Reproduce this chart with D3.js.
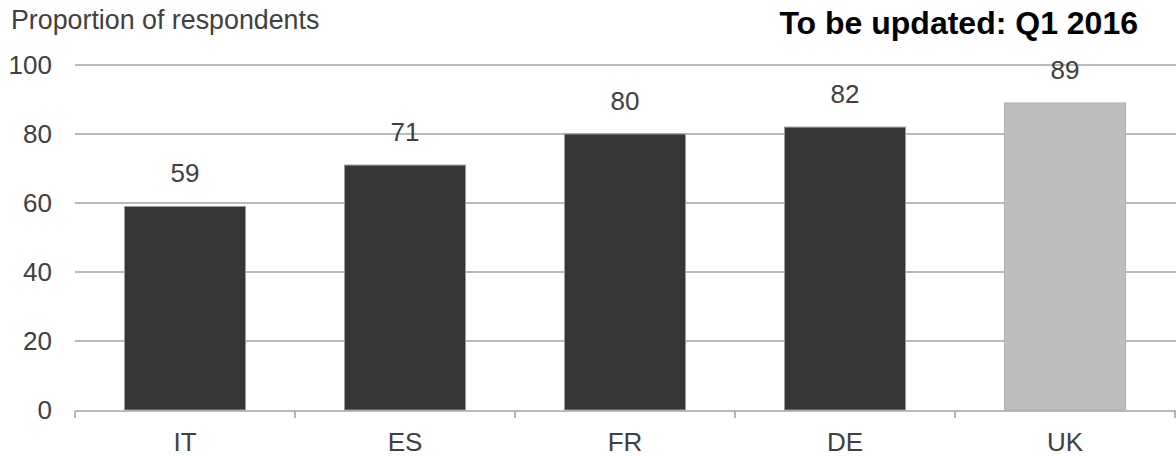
<!DOCTYPE html>
<html><head><meta charset="utf-8">
<script src="https://cdn.jsdelivr.net/npm/d3@7"></script>
<style>body{margin:0;background:#fff}svg{display:block}text{font-family:"Liberation Sans",Arial,sans-serif}</style>
</head><body>
<svg id="c" width="1176" height="456"></svg>
<script>
const categories = ["IT","ES","FR","DE","UK"];
const values = [59,71,80,82,89];
const highlight = [false,false,false,false,true];
const yTicks = [0,20,40,60,80,100];
const yTitle = "Proportion of respondents";
const note = "To be updated: Q1 2016";

const svg = d3.select("#c");
const mLeft = 75, mRight = 1175, mTop = 65, mBottom = 410;
const x = d3.scaleBand().domain(categories).range([mLeft,mRight]).paddingInner(0.45).paddingOuter(0.225);
const y = d3.scaleLinear().domain([0,100]).range([mBottom,mTop]);

// gridlines
svg.append("g").selectAll("line").data(yTicks.filter(d=>d>0)).join("line")
  .attr("x1",mLeft).attr("x2",1176).attr("y1",d=>y(d)).attr("y2",d=>y(d))
  .attr("stroke","#a3a3a3").attr("stroke-width",1.6);

// y labels
svg.append("g").selectAll("text").data(yTicks).join("text")
  .attr("x",52).attr("y",d=>y(d)).attr("dy","0.36em").attr("text-anchor","end")
  .attr("font-size",26).attr("fill","#404040").text(d=>d);

// bars
svg.append("g").selectAll("rect").data(categories).join("rect")
  .attr("x",d=>x(d)).attr("width",x.bandwidth())
  .attr("y",(d,i)=>y(values[i])).attr("height",(d,i)=>y(0)-y(values[i]))
  .attr("fill",(d,i)=>highlight[i]?"#bdbdbd":"#363636")
  .attr("stroke",(d,i)=>highlight[i]?"#b0b0b0":"#9a9a9a").attr("stroke-width",1);

// value labels
svg.append("g").selectAll("text").data(categories).join("text")
  .attr("x",d=>x(d)+x.bandwidth()/2).attr("y",(d,i)=>y(values[i])-24)
  .attr("text-anchor","middle").attr("font-size",26).attr("fill","#404040")
  .text((d,i)=>values[i]);

// x axis
const xa = svg.append("g");
xa.append("line").attr("x1",mLeft).attr("x2",1176).attr("y1",mBottom+1).attr("y2",mBottom+1)
  .attr("stroke","#a3a3a3").attr("stroke-width",1.6);
const bounds = categories.map(d=>x(d)-x.step()*x.paddingInner()/2).concat([mRight]);
xa.selectAll("line.t").data(bounds).join("line").attr("class","t")
  .attr("x1",d=>d).attr("x2",d=>d).attr("y1",mBottom+1).attr("y2",mBottom+8)
  .attr("stroke","#a3a3a3").attr("stroke-width",1.6);
xa.selectAll("text").data(categories).join("text")
  .attr("x",d=>x(d)+x.bandwidth()/2).attr("y",451).attr("text-anchor","middle")
  .attr("font-size",26).attr("fill","#404040").text(d=>d);

// titles
svg.append("text").attr("x",11).attr("y",29).attr("font-size",26.8).attr("fill","#404040").text(yTitle);
svg.append("text").attr("x",1138).attr("y",34).attr("text-anchor","end").attr("font-size",32)
  .attr("font-weight","bold").attr("fill","#000").text(note);
</script>
</body></html>
